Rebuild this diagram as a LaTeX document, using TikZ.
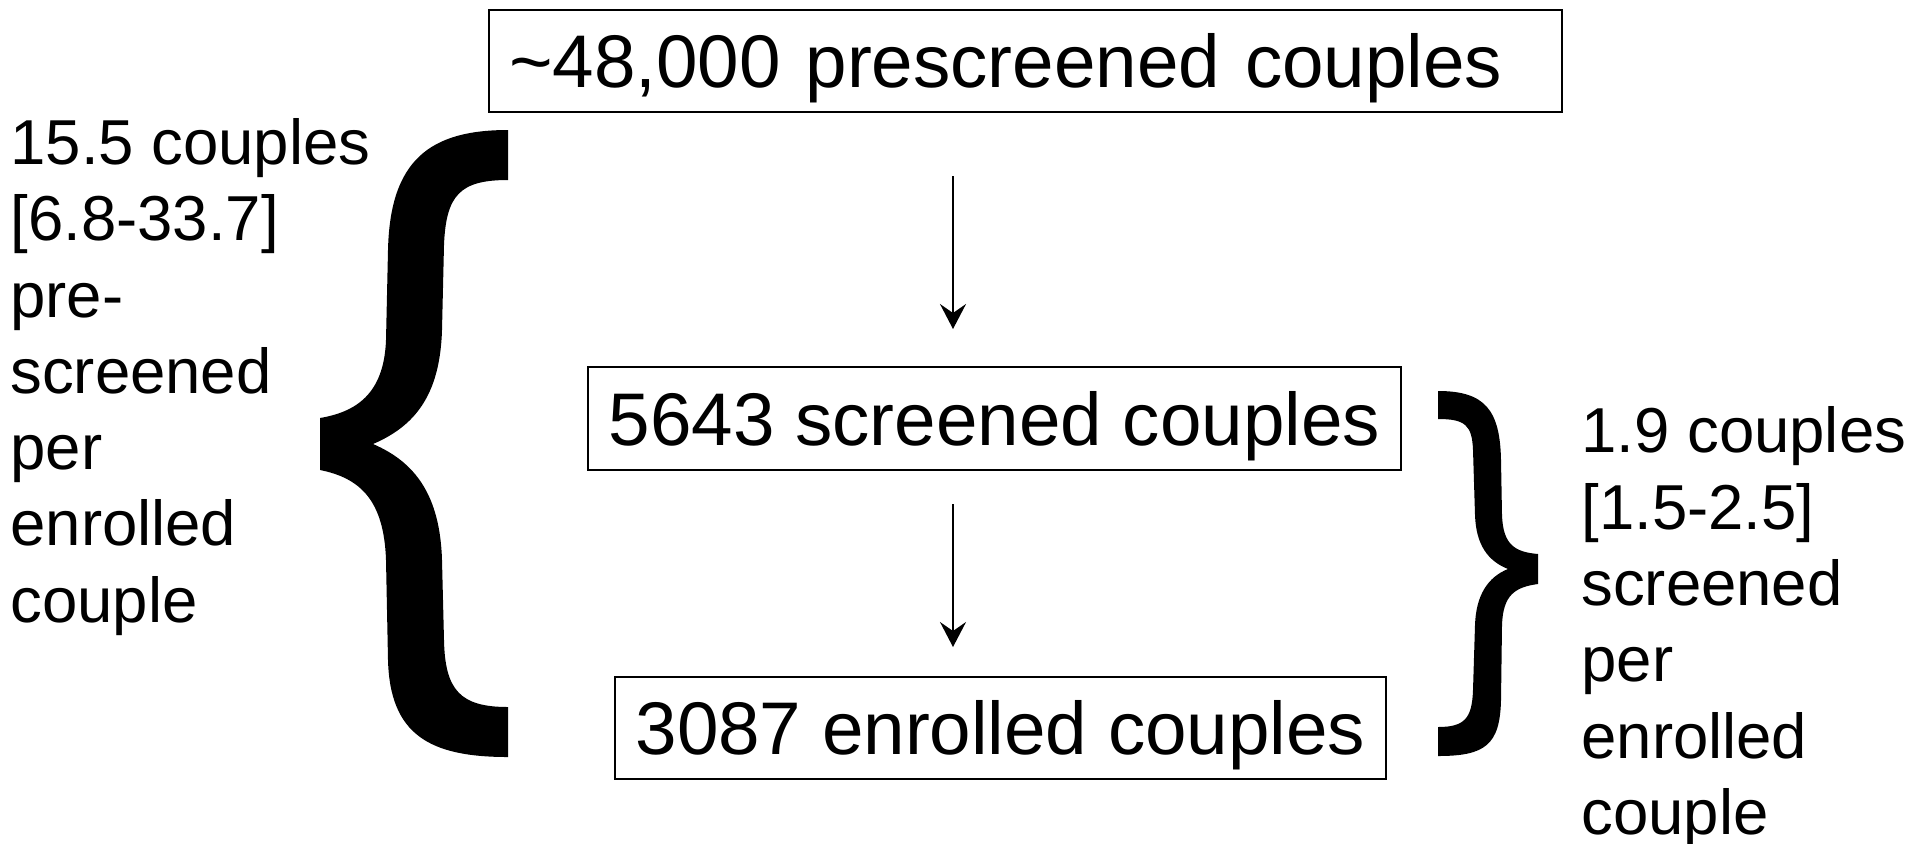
\documentclass[tikz,border=0pt]{standalone}
\usepackage{fontspec}
\setmainfont{Liberation Sans}
\usetikzlibrary{arrows.meta}
\begin{document}
\begin{tikzpicture}[x=0.5pt,y=-0.5pt,
  box/.style={draw, line width=1pt, inner ysep=0pt, font=\fontsize{37.3}{44}\selectfont, text height=26.7pt, text depth=0pt},
  side/.style={inner sep=0pt, anchor=north west, align=left, font=\fontsize{31.75}{38.15}\selectfont},
  arr/.style={line width=1pt, -{Stealth[length=12.5pt,width=13pt,inset=4.5pt]}},
  bracefill/.style={fill=black, draw=none}]
\useasboundingbox (0,0) rectangle (1932,843);

% boxes
\node[box, minimum height=51pt, inner xsep=10pt, text width=516.5pt, align=left] (top) at (1025.5,61) {\textasciitilde48,000 prescreened couples};
\node[box, minimum width=406.5pt, minimum height=51.5pt] (mid) at (994.5,418.5) {5643 screened couples};
\node[box, minimum width=385.5pt, minimum height=51pt] (bot) at (1000.5,728) {3087 enrolled couples};

% arrows
\coordinate (a1s) at (953,176);
\coordinate (a1e) at (953,329);
\coordinate (a2s) at (953,504);
\coordinate (a2e) at (953,647);
\draw[arr] (a1s) -- (a1e);
\draw[arr] (a2s) -- (a2e);

% left brace
\fill[bracefill] (508,130) .. controls (430,130) and (390,160) .. (388,250)
  -- (386,340)
  .. controls (384,395) and (355,412) .. (320,418)
  -- (320,470)
  .. controls (360,478) and (384,500) .. (386,560)
  -- (388,660)
  .. controls (390,735) and (430,757) .. (508,757)
  -- (508,707)
  .. controls (460,707) and (445,690) .. (444,640)
  -- (442,560)
  .. controls (440,495) and (415,462) .. (373,444)
  .. controls (415,426) and (440,395) .. (442,330)
  -- (444,245)
  .. controls (446,195) and (460,180) .. (508,180)
  -- cycle;

% right brace
\fill[bracefill] (1438,391) .. controls (1485,391) and (1500,410) .. (1501,460)
  -- (1502,515)
  .. controls (1503,545) and (1515,552) .. (1538,554)
  -- (1538,584)
  .. controls (1515,587) and (1503,595) .. (1502,625)
  -- (1501,700)
  .. controls (1500,745) and (1485,756) .. (1438,756)
  -- (1438,727)
  .. controls (1465,727) and (1472,718) .. (1473,690)
  -- (1475,625)
  .. controls (1476,595) and (1488,577) .. (1508,569)
  .. controls (1488,561) and (1476,545) .. (1475,515)
  -- (1473,450)
  .. controls (1472,425) and (1465,419) .. (1438,419)
  -- cycle;

% side texts
\node[side] (ltext) at (10,118) {15.5 couples\\{[6.8-33.7]}\\pre-\\screened\\per\\enrolled\\couple};
\node[side] (rtext) at (1581,406.5) {1.9 couples\\{[1.5-2.5]}\\screened\\per\\enrolled\\couple};
\end{tikzpicture}
\end{document}
